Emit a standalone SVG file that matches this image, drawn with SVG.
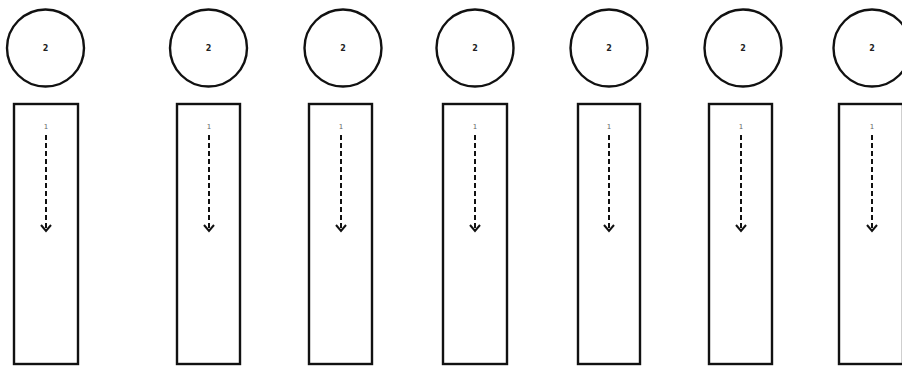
<svg xmlns="http://www.w3.org/2000/svg" width="902" height="366" viewBox="0 0 902 366">
<style>
.c{fill:#fff;stroke:#111;stroke-width:2.4}
.r{fill:#fff;stroke:#111;stroke-width:2.4}
.t2{font-family:"DejaVu Sans",sans-serif;font-size:8px;font-weight:bold;fill:#222;text-anchor:middle}
.t1{font-family:"DejaVu Sans",sans-serif;font-size:7px;fill:#666;text-anchor:middle}
.d{stroke:#111;stroke-width:2;stroke-dasharray:5 3;fill:none}
.h{stroke:#111;stroke-width:2;fill:none}
</style>
<rect width="902" height="366" fill="#fff"/>
<g id="n1"><circle class="c" cx="45.5" cy="48" r="38.5"/><text class="t2" x="45.5" y="51">2</text><rect class="r" x="14" y="104" width="64" height="260"/><text class="t1" x="46" y="129">1</text></g>
<g id="n2"><circle class="c" cx="208.5" cy="48" r="38.5"/><text class="t2" x="208.5" y="51">2</text><rect class="r" x="177" y="104" width="63" height="260"/><text class="t1" x="209" y="129">1</text></g>
<g id="n3"><circle class="c" cx="343" cy="48" r="38.5"/><text class="t2" x="343" y="51">2</text><rect class="r" x="309" y="104" width="63" height="260"/><text class="t1" x="341" y="129">1</text></g>
<g id="n4"><circle class="c" cx="475" cy="48" r="38.5"/><text class="t2" x="475" y="51">2</text><rect class="r" x="443" y="104" width="64" height="260"/><text class="t1" x="475" y="129">1</text></g>
<g id="n5"><circle class="c" cx="609" cy="48" r="38.5"/><text class="t2" x="609" y="51">2</text><rect class="r" x="578" y="104" width="62" height="260"/><text class="t1" x="609" y="129">1</text></g>
<g id="n6"><circle class="c" cx="743" cy="48" r="38.5"/><text class="t2" x="743" y="51">2</text><rect class="r" x="709" y="104" width="63" height="260"/><text class="t1" x="741" y="129">1</text></g>
<g id="n7"><circle class="c" cx="872" cy="48" r="38.5"/><text class="t2" x="872" y="51">2</text><rect class="r" x="839" y="104" width="64" height="260"/><text class="t1" x="872" y="129">1</text></g>
<g id="connectors">
<path class="d" d="M46 135V231"/><path class="h" d="M41 225L46 231L51 225"/>
<path class="d" d="M209 135V231"/><path class="h" d="M204 225L209 231L214 225"/>
<path class="d" d="M341 135V231"/><path class="h" d="M336 225L341 231L346 225"/>
<path class="d" d="M475 135V231"/><path class="h" d="M470 225L475 231L480 225"/>
<path class="d" d="M609 135V231"/><path class="h" d="M604 225L609 231L614 225"/>
<path class="d" d="M741 135V231"/><path class="h" d="M736 225L741 231L746 225"/>
<path class="d" d="M872 135V231"/><path class="h" d="M867 225L872 231L877 225"/>
</g>
</svg>
